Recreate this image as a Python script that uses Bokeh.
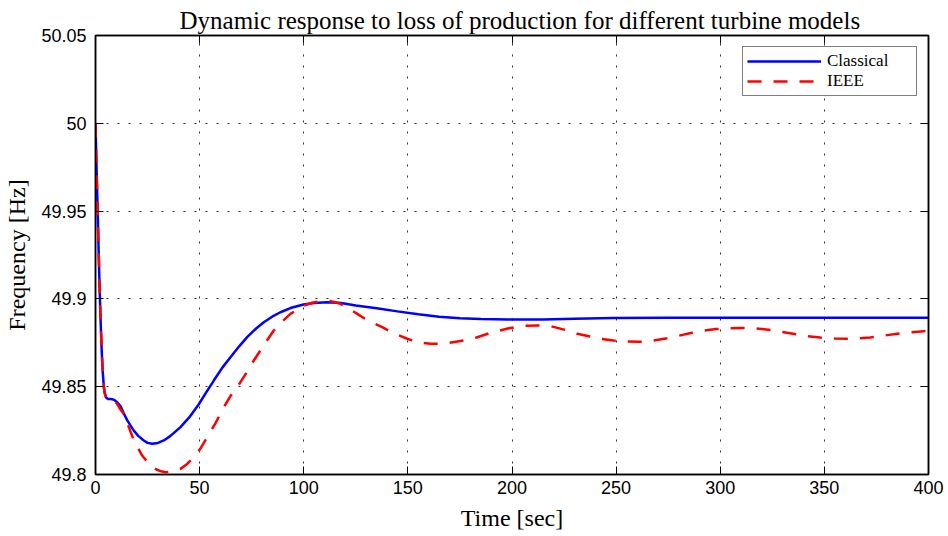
from bokeh.plotting import figure
from bokeh.models import Range1d, FixedTicker, LinearAxis, Legend, LegendItem, Title
from bokeh.embed import file_html
from bokeh.resources import INLINE

# ---------------- data ----------------
time_classical = [0, 0.5, 1.0, 1.5, 2.0, 2.5, 3.0, 3.5, 4.0, 4.5, 5.0, 6.0, 7.5, 9.0,
                  10.5, 12.0, 13.5, 15.2, 17.0, 18.4, 20.5, 23.2, 25.0, 27.2, 30.0,
                  32.8, 36.0, 40.8, 45.0, 49.6, 53.0, 56.8, 61.0, 64.8, 69.0, 72.8,
                  77.0, 80.8, 85.0, 88.8, 93.6, 99.9, 105.0, 111.2, 118.0, 125.0,
                  135.0, 145.0, 155.0, 165.0, 175.0, 185.0, 198.0, 215.0, 230.0,
                  248.9, 275.0, 300.0, 350.0, 400.0]
freq_classical = [50.000, 49.975, 49.952, 49.928, 49.905, 49.886, 49.870, 49.858, 49.850,
                  49.846, 49.844, 49.843, 49.843, 49.8425, 49.841, 49.839, 49.835,
                  49.831, 49.8275, 49.825, 49.822, 49.8194, 49.818, 49.8175, 49.818,
                  49.8194, 49.822, 49.8270, 49.8325, 49.8400, 49.8465, 49.8535, 49.861,
                  49.8668, 49.873, 49.8782, 49.883, 49.8867, 49.890, 49.8924, 49.8948,
                  49.8968, 49.8977, 49.8981, 49.8977, 49.8963, 49.8947, 49.8929,
                  49.8912, 49.8899, 49.8890, 49.8885, 49.8882, 49.8883, 49.8887,
                  49.8891, 49.8892, 49.8892, 49.8893, 49.8893]

time_ieee = [0, 0.5, 1.0, 1.5, 2.0, 2.5, 3.0, 3.5, 4.0, 4.5, 5.0, 6.0, 7.5, 9.0, 10.5,
             12.0, 13.6, 16.0, 18.4, 20.5, 22.4, 24.5, 26.4, 29.0, 31.5, 33.6, 37.0,
             40.8, 44.0, 47.2, 50.5, 53.6, 57.5, 61.6, 65.0, 68.0, 72.0, 76.0, 81.0,
             85.6, 90.0, 93.6, 97.0, 100.0, 104.0, 108.0, 112.5, 117.0, 121.0, 125.7,
             131.0, 137.7, 143.0, 149.7, 155.0, 161.0, 168.0, 176.9, 183.0, 189.7,
             198.5, 205.5, 212.0, 218.5, 225.0, 231.3, 237.7, 243.0, 248.8, 255.0,
             261.7, 268.0, 274.5, 280.0, 286.5, 292.0, 298.0, 304.0, 310.0, 316.0,
             322.0, 328.9, 335.0, 341.7, 348.0, 355.0, 361.0, 367.0, 372.0, 378.0,
             385.0, 391.0, 397.7, 400.0]
freq_ieee = [50.000, 49.975, 49.952, 49.928, 49.905, 49.886, 49.870, 49.858, 49.850,
             49.846, 49.844, 49.843, 49.8428, 49.842, 49.840, 49.837, 49.8345, 49.827,
             49.8194, 49.8148, 49.8108, 49.8078, 49.8051, 49.803, 49.8018, 49.8013,
             49.8018, 49.8032, 49.806, 49.8099, 49.815, 49.8212, 49.829, 49.8383,
             49.845, 49.8497, 49.857, 49.8649, 49.874, 49.882, 49.8875, 49.8915,
             49.894, 49.8962, 49.8978, 49.8987, 49.8988, 49.8975, 49.895, 49.8915,
             49.8875, 49.8839, 49.8805, 49.8773, 49.8752, 49.8744, 49.8746, 49.8763,
             49.878, 49.8807, 49.8833, 49.8847, 49.8849, 49.8845, 49.8825, 49.8801,
             49.8786, 49.8772, 49.8763, 49.8757, 49.8756, 49.8763, 49.8776, 49.879,
             49.8807, 49.882, 49.8828, 49.8832, 49.8834, 49.8833, 49.8826, 49.8814,
             49.8801, 49.8788, 49.878, 49.8774, 49.8773, 49.8776, 49.878, 49.879,
             49.8801, 49.8809, 49.8816, 49.8818]

series_names = ["Classical", "IEEE"]
x_ticks = [0, 50, 100, 150, 200, 250, 300, 350, 400]
y_ticks = [49.8, 49.85, 49.9, 49.95, 50.0, 50.05]
y_tick_labels = ["49.8", "49.85", "49.9", "49.95", "50", "50.05"]
title_text = "Dynamic response to loss of production for different turbine models"
x_label = "Time [sec]"
y_label = "Frequency [Hz]"

SERIF = "Liberation Serif"
SANS = "Liberation Sans"

p = figure(width=948, height=536, output_backend="svg", toolbar_location=None,
           x_range=Range1d(0, 400), y_range=Range1d(49.8, 50.05),
           min_border_left=95, min_border_right=20, min_border_top=35,
           min_border_bottom=62)
p.background_fill_color = "white"
p.border_fill_color = "white"
p.outline_line_color = "black"
p.outline_line_width = 1.5

p.title = Title(text=title_text, align="left", text_font=SERIF,
                text_font_size="25px", text_font_style="normal",
                text_color="black", standoff=4, offset=84)

for ax in (p.xaxis[0], p.yaxis[0]):
    ax.axis_line_color = "black"
    ax.axis_line_width = 1.5
    ax.major_tick_in = 8
    ax.major_tick_out = 0
    ax.major_tick_line_color = "black"
    ax.minor_tick_line_color = None
    ax.major_label_text_font = SANS
    ax.major_label_text_font_size = "18px"
    ax.major_label_text_color = "black"
    ax.axis_label_text_font = SERIF
    ax.axis_label_text_font_size = "24px"
    ax.axis_label_text_font_style = "normal"
    ax.axis_label_text_color = "black"

p.xaxis[0].ticker = FixedTicker(ticks=x_ticks)
p.yaxis[0].ticker = FixedTicker(ticks=y_ticks)
p.yaxis[0].major_label_overrides = {t: s for t, s in zip(y_ticks, y_tick_labels)}
p.xaxis[0].axis_label = x_label
p.yaxis[0].axis_label = y_label
p.xaxis[0].major_label_standoff = 6
p.yaxis[0].major_label_standoff = 9
p.xaxis[0].axis_label_standoff = 8
p.yaxis[0].axis_label_standoff = 8

# ticks on the top and right sides (MATLAB box style), without labels
top_axis = LinearAxis(ticker=FixedTicker(ticks=x_ticks))
right_axis = LinearAxis(ticker=FixedTicker(ticks=y_ticks))
for ax in (top_axis, right_axis):
    ax.axis_line_color = "black"
    ax.axis_line_width = 1.5
    ax.major_tick_in = 8
    ax.major_tick_out = 0
    ax.minor_tick_line_color = None
    ax.major_label_text_font_size = "1px"
    ax.major_label_text_color = None
    ax.major_label_text_alpha = 0
    ax.major_label_standoff = 0
p.add_layout(top_axis, "above")
p.add_layout(right_axis, "right")

for g in (p.xgrid[0], p.ygrid[0]):
    g.grid_line_color = "#333333"
    g.grid_line_dash = "2 9"
    g.grid_line_width = 1
p.xgrid[0].ticker = FixedTicker(ticks=x_ticks)
p.ygrid[0].ticker = FixedTicker(ticks=y_ticks)

r1 = p.line(time_classical, freq_classical, line_color="#0000FF", line_width=2.5)
r2 = p.line(time_ieee, freq_ieee, line_color="#FF0000", line_width=2.5,
            line_dash="14 12")

legend = Legend(items=[LegendItem(label=series_names[0], renderers=[r1]),
                       LegendItem(label=series_names[1], renderers=[r2])],
                location="top_right")
legend.margin = 11
legend.padding = 4
legend.spacing = 0
legend.glyph_width = 74
legend.glyph_height = 12
legend.label_height = 12
legend.label_width = 85
legend.label_standoff = 6
legend.label_text_font = SERIF
legend.label_text_font_size = "17px"
legend.label_text_color = "black"
legend.border_line_color = "black"
legend.border_line_width = 1
legend.background_fill_color = "white"
legend.background_fill_alpha = 1
p.add_layout(legend)

open("out.html", "w").write(file_html(p, INLINE))
